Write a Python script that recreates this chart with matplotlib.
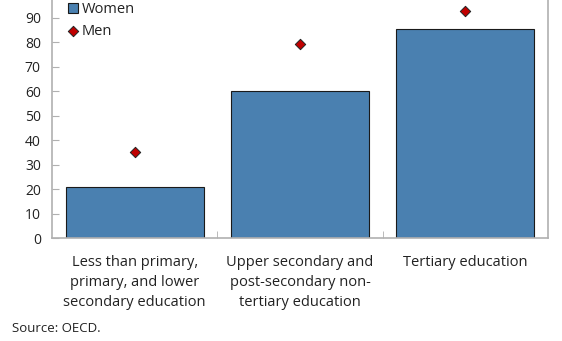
import matplotlib
matplotlib.use("Agg")
import matplotlib.pyplot as plt
import numpy as np

plt.rcParams["font.family"] = ["Open Sans", "DejaVu Sans"]

# Share of adults by education level, women vs men
categories = [
    "Less than primary,\nprimary, and lower\nsecondary education",
    "Upper secondary and\npost-secondary non-\ntertiary education",
    "Tertiary education",
]
women = [21, 60, 85.5]
men = [35, 79.5, 93]
y_ticks = [0, 10, 20, 30, 40, 50, 60, 70, 80, 90]

bar_color = "#4A80B0"
men_color = "#C00000"
spine_color = "#B0B0B0"
text_color = "#222222"

fig = plt.figure(figsize=(5.62, 3.41), dpi=100)
ax = fig.add_axes([0.0925, 0.302, 0.8825, 0.698])

x = np.arange(len(categories))
bars = ax.bar(x, women, width=0.835, color=bar_color, edgecolor="#1a1a1a",
              linewidth=0.8, zorder=2)
pts = ax.scatter(x, men, marker="D", s=28, color=men_color, edgecolor="#222222",
                 linewidth=0.7, zorder=3)

ax.set_xlim(-0.5, 2.5)
ax.set_ylim(0, 97.3)
ax.set_yticks(y_ticks)
ax.set_xticks(x)
ax.set_xticklabels(categories, fontsize=10.5, color=text_color, linespacing=1.45)
ax.set_xticks([0.5, 1.5], minor=True)

ax.tick_params(axis="y", direction="in", length=5, color=spine_color,
               labelsize=10, labelcolor=text_color, pad=8)
ax.tick_params(axis="x", which="major", length=0, pad=12)
ax.tick_params(axis="x", which="minor", direction="in", length=5,
               color=spine_color)

ax.spines["top"].set_visible(False)
for side in ["left", "right", "bottom"]:
    ax.spines[side].set_color(spine_color)
    ax.spines[side].set_linewidth(1.2)

# square legend key for the bars
women_key = plt.Line2D([], [], marker="s", linestyle="none", markersize=7,
                       markerfacecolor=bar_color, markeredgecolor="#1a1a1a",
                       markeredgewidth=0.8)
leg = ax.legend([women_key, pts], ["Women", "Men"], loc="upper left",
                bbox_to_anchor=(0.012, 1.03), frameon=False, fontsize=10.5,
                handlelength=0.9, handletextpad=0.15, labelspacing=0.5,
                borderaxespad=0.2)
for t in leg.get_texts():
    t.set_color(text_color)

fig.text(0.021, 0.025, "Source: OECD.", fontsize=9.5, color=text_color)

fig.savefig("out.png", dpi=100)
